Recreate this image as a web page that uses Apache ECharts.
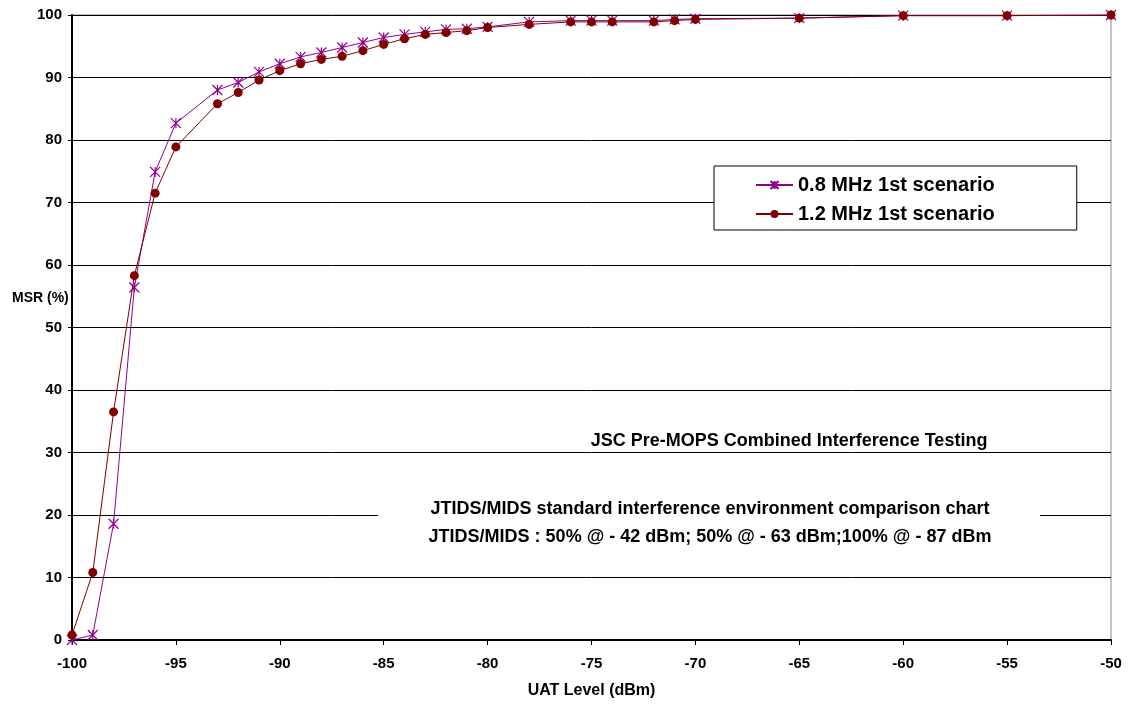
<!DOCTYPE html>
<html><head><meta charset="utf-8">
<script src="https://cdn.jsdelivr.net/npm/echarts@6/dist/echarts.min.js"></script>
<style>html,body{margin:0;padding:0;background:#fff}#c{width:1133px;height:704px}</style>
</head><body><div id="c"></div>
<script>
const uatLevel = [-100,-99,-98,-97,-96,-95,-93,-92,-91,-90,-89,-88,-87,-86,-85,-84,-83,-82,-81,-80,-78,-76,-75,-74,-72,-71,-70,-65,-60,-55,-50];
const msr08 = [0,0.8,18.6,56.4,74.9,82.7,88.0,89.2,90.9,92.2,93.3,94.0,94.8,95.6,96.4,96.9,97.3,97.7,97.8,98.1,98.9,99.1,99.1,99.1,99.1,99.3,99.4,99.5,99.9,99.9,100];
const msr12 = [0.8,10.8,36.5,58.3,71.5,78.9,85.8,87.6,89.6,91.1,92.2,92.9,93.4,94.3,95.3,96.2,96.9,97.2,97.5,98.0,98.5,98.9,98.9,98.9,98.9,99.1,99.3,99.5,99.9,99.9,100];
const seriesNames = ['0.8 MHz 1st scenario','1.2 MHz 1st scenario'];
const xTitle = 'UAT Level (dBm)';
const yTitle = 'MSR (%)';
const note1 = 'JSC Pre-MOPS Combined Interference Testing';
const note2 = 'JTIDS/MIDS standard interference environment comparison chart';
const note3 = 'JTIDS/MIDS : 50% @ - 42 dBm; 50% @ - 63 dBm;100% @ - 87 dBm';

const FONT = '"Liberation Sans", Arial, sans-serif';
const purple = '#900090', red = '#800000';
const star = 'path://M0,0L10,10M10,0L0,10M5,0L5,10';

const chart = echarts.init(document.getElementById('c'), null, {renderer:'canvas'});
chart.setOption({
  animation:false,
  backgroundColor:'#fff',
  grid:{left:72,right:22,top:15,bottom:64,show:true,borderColor:'#888',borderWidth:1},
  xAxis:{type:'value',min:-100,max:-50,interval:5,
    name:xTitle,nameLocation:'middle',nameGap:43,
    nameTextStyle:{fontFamily:FONT,fontWeight:'bold',fontSize:16,color:'#000'},
    axisLine:{show:true,onZero:false,lineStyle:{color:'#000',width:2}},
    axisTick:{show:true,length:5,lineStyle:{color:'#000'}},
    axisLabel:{margin:16,fontFamily:FONT,fontWeight:'bold',fontSize:15,color:'#000'},
    splitLine:{show:false}},
  yAxis:{type:'value',min:0,max:100,interval:10,
    axisLine:{show:true,lineStyle:{color:'#000',width:2}},
    axisTick:{show:true,length:4,lineStyle:{color:'#000'}},
    axisLabel:{margin:10,fontFamily:FONT,fontWeight:'bold',fontSize:15,color:'#000'},
    splitLine:{show:true,lineStyle:{color:'#000',width:1}}},
  legend:{orient:'vertical',left:714,top:166,
    padding:[8,82,5,41],itemGap:7,itemWidth:37,itemHeight:10,
    backgroundColor:'#fff',borderColor:'#000',borderWidth:1,
    textStyle:{fontFamily:FONT,fontWeight:'bold',fontSize:20,color:'#000',lineHeight:22},
    data:seriesNames},
  graphic:[
    {type:'rect',shape:{x:378,y:496,width:662,height:54},style:{fill:'#fff'},z:5},
    {type:'text',x:789,y:441,z:6,style:{text:note1,fontFamily:FONT,fontWeight:'bold',fontSize:18,fill:'#000',align:'center',verticalAlign:'middle'}},
    {type:'text',x:710,y:509,z:6,style:{text:note2,fontFamily:FONT,fontWeight:'bold',fontSize:18,fill:'#000',align:'center',verticalAlign:'middle'}},
    {type:'text',x:710,y:537,z:6,style:{text:note3,fontFamily:FONT,fontWeight:'bold',fontSize:18,fill:'#000',align:'center',verticalAlign:'middle'}},
    {type:'text',x:12,y:298,z:6,style:{text:yTitle,fontFamily:FONT,fontWeight:'bold',fontSize:14,fill:'#000',align:'left',verticalAlign:'middle'}}
  ],
  series:[
    {name:seriesNames[0],type:'line',data:uatLevel.map((x,i)=>[x,msr08[i]]),
      symbol:star,symbolSize:10,showSymbol:true,
      lineStyle:{color:purple,width:1},
      itemStyle:{color:purple,borderColor:purple,borderWidth:1.2},z:3},
    {name:seriesNames[1],type:'line',data:uatLevel.map((x,i)=>[x,msr12[i]]),
      symbol:'circle',symbolSize:9,showSymbol:true,
      lineStyle:{color:red,width:1},
      itemStyle:{color:red,borderColor:red,borderWidth:0},z:4}
  ]
});
</script></body></html>
